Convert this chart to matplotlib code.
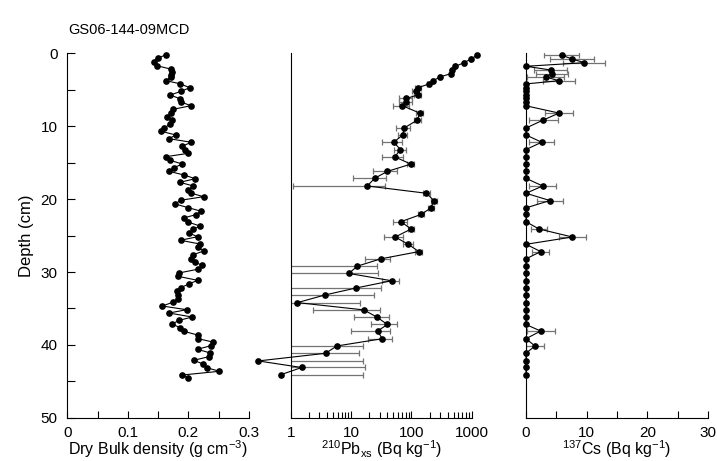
import numpy as np
import matplotlib
matplotlib.use("Agg")
import matplotlib.pyplot as plt
from matplotlib.ticker import MultipleLocator, FuncFormatter, LogLocator, NullFormatter

plt.rcParams['font.family'] = ['Liberation Sans', 'DejaVu Sans']
plt.rcParams['mathtext.fontset'] = 'custom'
plt.rcParams['mathtext.rm'] = 'Liberation Sans'
plt.rcParams['mathtext.it'] = 'Liberation Sans:italic'
plt.rcParams['axes.unicode_minus'] = False

# dry bulk density
dbd_depth = [0.19, 0.69, 1.19, 1.70, 2.19, 2.57, 2.94, 3.25, 3.76, 4.17, 4.72, 5.21, 5.72, 6.23,
             6.68, 7.19, 7.68, 8.19, 8.70, 9.15, 9.70, 10.25, 10.70, 11.2, 11.71, 12.21, 12.72,
             13.22, 13.72, 14.18, 14.68, 15.19, 15.69, 16.19, 16.70, 17.20, 17.70, 18.20, 18.71,
             19.20, 19.67, 20.16, 20.67, 21.18, 21.67, 22.14, 22.59, 23.14, 23.69, 24.14, 24.65,
             25.16, 25.65, 26.16, 26.61, 27.12, 27.63, 28.18, 28.63, 29.08, 29.63, 30.14, 30.59,
             31.14, 31.64, 32.15, 32.65, 33.20, 33.66, 34.12, 34.67, 35.17, 35.63, 36.17, 36.63,
             37.13, 37.64, 38.13, 38.64, 39.15, 39.60, 40.11, 40.60, 41.11, 41.61, 42.11, 42.62,
             43.12, 43.62, 44.13, 44.58]
dbd = [0.163, 0.149, 0.143, 0.148, 0.172, 0.173, 0.172, 0.171, 0.163, 0.186, 0.202, 0.188,
       0.170, 0.186, 0.188, 0.204, 0.175, 0.172, 0.165, 0.173, 0.170, 0.160, 0.155, 0.179,
       0.168, 0.205, 0.190, 0.195, 0.200, 0.163, 0.170, 0.190, 0.176, 0.168, 0.193, 0.211,
       0.186, 0.208, 0.200, 0.205, 0.225, 0.187, 0.178, 0.200, 0.221, 0.212,
       0.192, 0.199, 0.219, 0.208, 0.201, 0.215, 0.187, 0.219, 0.216, 0.225, 0.208, 0.205,
       0.211, 0.222, 0.215, 0.184, 0.183, 0.215, 0.201, 0.187, 0.181, 0.183, 0.182, 0.175,
       0.157, 0.197, 0.168, 0.206, 0.185, 0.173, 0.186, 0.192, 0.215, 0.216, 0.240, 0.237,
       0.215, 0.236, 0.234, 0.209, 0.224, 0.230, 0.251, 0.190, 0.200]

# 210Pb excess and 137Cs share the same sample depths
rad_depth = [0.27, 0.78, 1.29, 1.78, 2.29, 2.8, 3.25, 3.76, 4.2, 4.72, 5.2, 5.7, 6.2, 6.7, 7.2,
             8.2, 9.15, 10.25, 11.2, 12.2, 13.2, 14.2, 15.2, 16.2, 17.15, 18.2, 19.2, 20.2, 21.2,
             22.1, 23.1, 24.1, 25.2, 26.2, 27.2, 28.2, 29.2, 30.2, 31.2, 32.2, 33.15, 34.2, 35.2,
             36.2, 37.2, 38.1, 39.15, 40.15, 41.15, 42.2, 43.1, 44.1]
pb = [1230, 966, 748, 537, 474, 446, 297, 230, 195, 130, 118, 128, 83, 83, 71, 138, 126, 76,
      72, 51, 66, 53, 98, 40, 24.6, 18.6, 178, 236, 212, 145, 67, 99, 54, 89, 133, 31, 12.7,
      9.2, 47, 12.0, 3.7, 1.29, 16.3, 27, 40, 27.5, 33, 5.8, 3.8, 0.29, 1.52, 0.68]
pb_err = [30, 25, 22, 18, 16, 15, 12, 11, 10, 16, 14, 16, 20, 20, 21, 18, 16, 20, 12, 19, 14,
          20, 13, 17, 14, 17.5, 23, 25, 22, 15, 17, 10, 19, 16, 16, 14, 14.6, 19, 15, 19, 20.5,
          12.7, 14, 15.7, 18.5, 17.5, 14, 9.7, 10, 15.6, 15.5, 15.2]
cs = [5.88, 7.63, 9.6, 0, 4.07, 4.23, 3.24, 5.44, 0, 0, 0, 0, 0, 0, 0, 5.44, 2.86, 0, 0, 2.58,
      0, 0, 0, 0, 0, 2.75, 0, 3.96, 0, 0, 0, 2.14, 7.63, 0, 2.42, 0, 0, 0, 0, 0, 0, 0, 0, 0, 0,
      2.42, 0, 1.48, 0, 0, 0, 0]
cs_err = [2.85, 3.6, 3.45, 0, 2.7, 2.65, 3.0, 2.7, 0, 0, 0, 0, 0, 0, 0, 2.35, 2.4, 0, 0, 2.05,
          0, 0, 0, 0, 0, 2.2, 0, 2.1, 0, 0, 0, 1.25, 2.2, 0, 1.4, 0, 0, 0, 0, 0, 0, 0, 0, 0, 0,
          2.33, 0, 1.45, 0, 0, 0, 0]

W, H = 717, 461
fig = plt.figure(figsize=(W / 100, H / 100), dpi=100)
bot = 1 - 417.8 / H
hgt = 364.5 / H
ax1 = fig.add_axes([67.3 / W, bot, 181.7 / W, hgt])
ax2 = fig.add_axes([290.7 / W, bot, 181.0 / W, hgt])
ax3 = fig.add_axes([526.0 / W, bot, 182.0 / W, hgt])

line_kw = dict(color='black', lw=0.8, marker='o', ms=3.8, clip_on=False, zorder=3)
err_kw = dict(fmt='none', ecolor='0.45', elinewidth=0.9, capsize=2, capthick=0.9, zorder=2)

ax1.plot(dbd, dbd_depth, **line_kw)

ax2.set_xscale('log')
ax2.errorbar(pb, rad_depth, xerr=pb_err, **err_kw)
ax2.plot(pb, rad_depth, **line_kw)

cs_a = np.array(cs)
cs_e = np.array(cs_err)
cd = np.array(rad_depth)
m = cs_e > 0
ax3.errorbar(cs_a[m], cd[m], xerr=cs_e[m], **err_kw)
ax3.plot(cs, rad_depth, **line_kw)

for ax in (ax1, ax2, ax3):
    ax.set_ylim(50, 0)
    for s in ('top', 'right'):
        ax.spines[s].set_visible(False)
    for s in ('left', 'bottom'):
        ax.spines[s].set_linewidth(0.8)
    ax.tick_params(axis='x', direction='in', length=5, width=0.8, labelsize=11, pad=6)

xlab_kw = dict(fontsize=11.5, labelpad=-1)

ax1.set_xlim(0, 0.3)
ax1.xaxis.set_major_locator(MultipleLocator(0.05))
ax1.xaxis.set_major_formatter(FuncFormatter(
    lambda v, p: ('%g' % round(v, 2)) if abs(round(v * 10) - v * 10) < 1e-6 else ''))
ax1.yaxis.set_major_locator(MultipleLocator(5))
ax1.yaxis.set_major_formatter(FuncFormatter(
    lambda v, p: '%d' % v if int(round(v)) % 10 == 0 else ''))
ax1.tick_params(axis='y', direction='in', length=6, width=0.8, labelsize=11, pad=7)
ax1.set_xlabel('Dry Bulk density (g cm$^{-3}$)', **xlab_kw)
ax1.set_ylabel('Depth (cm)', fontsize=12, labelpad=5)

ax2.set_xlim(1, 1000)
ax2.xaxis.set_major_locator(LogLocator(base=10, numticks=10))
ax2.xaxis.set_minor_locator(LogLocator(base=10, subs=np.arange(2, 10), numticks=10))
ax2.xaxis.set_minor_formatter(NullFormatter())
ax2.xaxis.set_major_formatter(FuncFormatter(lambda v, p: '%d' % v))
ax2.tick_params(axis='x', which='minor', direction='in', length=4, width=0.8)
ax2.set_yticks([])
ax2.set_xlabel(r'$^{210}$Pb$_{\rm xs}$ (Bq kg$^{-1}$)', **xlab_kw)

ax3.set_xlim(0, 30)
ax3.xaxis.set_major_locator(MultipleLocator(5))
ax3.xaxis.set_major_formatter(FuncFormatter(
    lambda v, p: '%d' % v if int(round(v)) % 10 == 0 else ''))
ax3.set_yticks([])
ax3.set_xlabel(r'$^{137}$Cs (Bq kg$^{-1}$)', **xlab_kw)

fig.text(68 / W, 1 - 30 / H, 'GS06-144-09MCD', fontsize=10.5, va='center', ha='left')

fig.savefig('out.png', dpi=100)
